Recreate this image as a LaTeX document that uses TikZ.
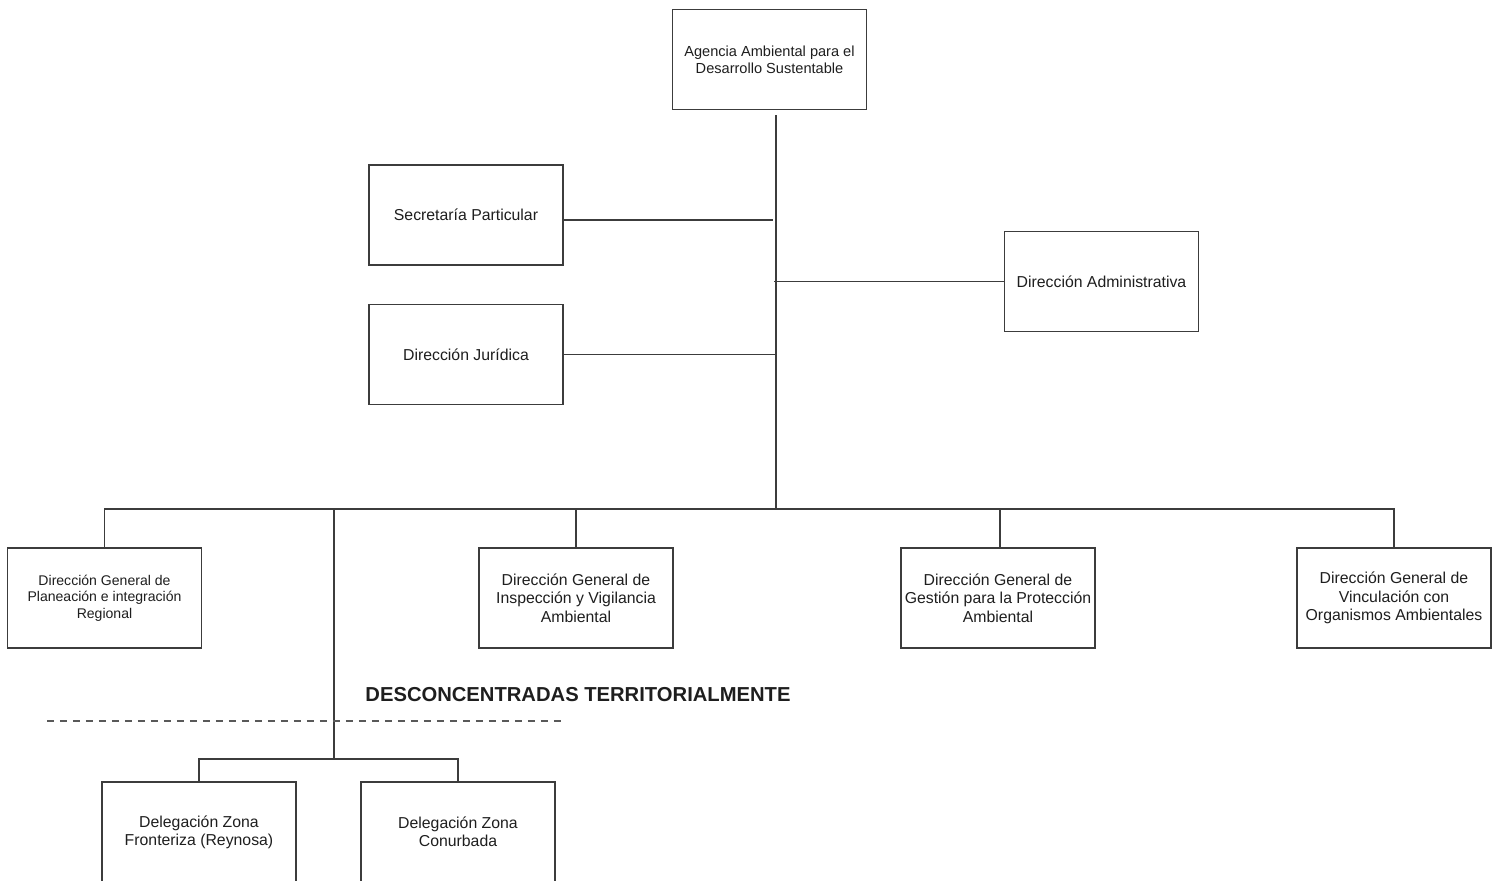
\documentclass[tikz,border=0pt]{standalone}
\usepackage{fontspec}
\setmainfont{Liberation Sans}
\usetikzlibrary{calc,positioning}
\definecolor{orgline}{RGB}{60,60,60}
\definecolor{orgtext}{RGB}{30,30,30}
\tikzset{
  unitbox/.style={draw=orgline,line width=0.65pt,minimum width=3.88cm,minimum height=2cm,
    align=center,text=orgtext,inner sep=2pt,font=\fontsize{9}{10.4}\selectfont},
  smallbox/.style={unitbox,font=\fontsize{8}{9.4}\selectfont},
  link/.style={draw=orgline,line width=0.6pt},
  cutline/.style={draw=orgline!85,line width=0.7pt,dash pattern=on 0.14cm off 0.12cm},
  headfont/.style={font=\fontsize{11.5}{13}\selectfont\bfseries,text=orgtext},
}
\newcommand{\orgbox}[4]{\node[unitbox] (#1) at (#2,#3) {#4};}

\begin{document}
\begin{tikzpicture}[x=0.02cm,y=-0.02cm]
        \useasboundingbox (0,0) rectangle (1502,880);
        % top and staff units
        \node[smallbox,font=\fontsize{8.3}{9.6}\selectfont] (agencia) at (769.5,59.5) {Agencia Ambiental para el\\Desarrollo Sustentable};
        \orgbox{secretaria}{466}{215}{Secretaría Particular}
        \orgbox{juridica}{466}{354.5}{Dirección Jurídica}
        \orgbox{admin}{1101.5}{281.5}{Dirección Administrativa}
        % general directions
        \node[smallbox] (planeacion) at (104.5,598) {Dirección General de\\Planeación e integración\\Regional};
        \orgbox{inspeccion}{576}{598}{Dirección General de\\Inspección y Vigilancia\\Ambiental}
        \orgbox{gestion}{998}{598}{Dirección General de\\Gestión para la Protección\\Ambiental}
        \orgbox{vinculacion}{1394}{598}{Dirección General de\\Vinculación con\\Organismos Ambientales}
        % delegations
        \orgbox{reynosa}{199}{832}{Delegación Zona\\Fronteriza (Reynosa)}
        \orgbox{conurbada}{458}{832}{Delegación Zona\\Conurbada}
        \node[headfont] (desc) at (578,695) {DESCONCENTRADAS TERRITORIALMENTE};
        % connectors
        \coordinate (top) at (776,115);
        \coordinate (hub) at (776,509);
        \coordinate (split) at (334,509);
        \coordinate (sub) at (334,759);
        \coordinate (dashL) at (47,721);
        \coordinate (dashR) at (563,721);
        \draw[link] (top) -- (hub);
        \draw[link] ([yshift=-0.1cm]secretaria.east) coordinate (s1) -- ([xshift=-0.06cm]s1 -| top);
        \draw[link] (juridica.east) -- (juridica.east -| top);
        \draw[link] (admin.west) -- ([xshift=-0.04cm]admin.west -| top);
        \draw[link] (planeacion.north) |- (vinculacion.north |- hub) -- (vinculacion.north);
        \draw[link] (inspeccion.north) -- (inspeccion.north |- hub);
        \draw[link] ([xshift=0.04cm]gestion.north) -- ([xshift=0.04cm]gestion.north |- hub);
        \draw[link] (split) -- (sub);
        \draw[link] (reynosa.north) |- (sub) -| (conurbada.north);
        \draw[cutline] (dashL) -- (dashR);
      \end{tikzpicture}
\end{document}
